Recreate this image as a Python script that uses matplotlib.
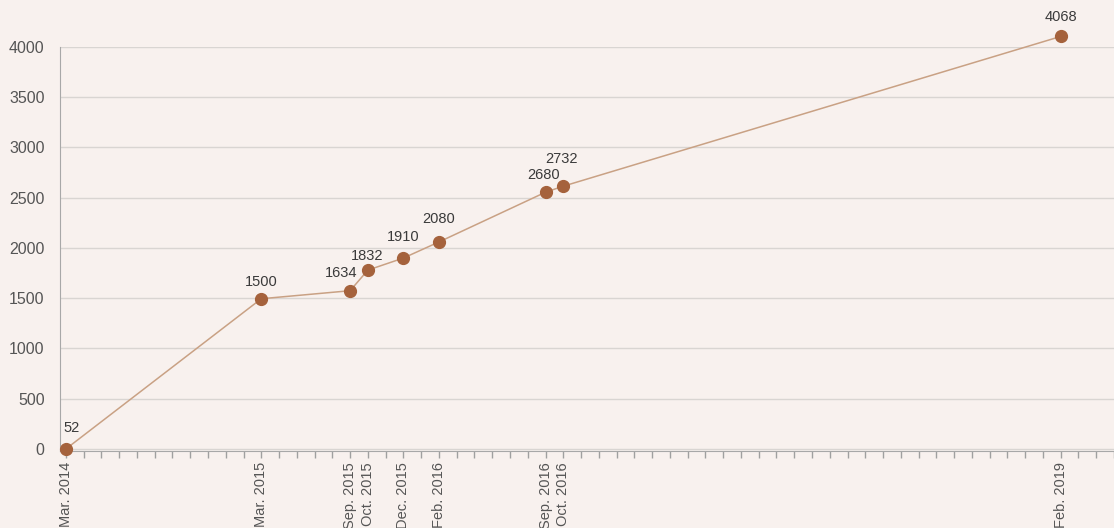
import matplotlib
matplotlib.use("Agg")
import matplotlib.pyplot as plt

# x positions are evenly spaced tick slots (one slot per minor tick)
slots = [0, 11, 16, 17, 19, 21, 27, 28, 56]
dates = ["Mar. 2014", "Mar. 2015", "Sep. 2015", "Oct. 2015", "Dec. 2015",
         "Feb. 2016", "Sep. 2016", "Oct. 2016", "Feb. 2019"]
values = [0, 1495, 1575, 1780, 1900, 2060, 2555, 2615, 4105]
value_labels = ["52", "1500", "1634", "1832", "1910", "2080", "2680", "2732", "4068"]

# label offsets in pixels (dx, dy)
offsets = [(6, 21), (0, 17), (-9, 18), (-1, 14), (0, 21), (0, 23), (-2, 17), (-2, 27), (0, 19)]

plt.rcParams['font.family'] = ['Liberation Sans', 'DejaVu Sans']

bg = '#f8f1ee'
fig = plt.figure(figsize=(11.14, 5.28), dpi=100, facecolor=bg)
ax = fig.add_axes([60 / 1114, 1 - 451 / 528, 1 - 60 / 1114, (451 - 47) / 528])
ax.set_facecolor(bg)

ax.plot(slots, values, color='#c9a184', linewidth=1.1, zorder=2, clip_on=False)
ax.plot(slots, values, 'o', color='#a5623c', markersize=8.5, zorder=3, clip_on=False)

for x, y, lab, (dx, dy) in zip(slots, values, value_labels, offsets):
    ax.annotate(lab, (x, y), xytext=(dx * 0.72, dy * 0.72), textcoords='offset points',
                ha='center', va='center', fontsize=10.5, color='#3a3a3a',
                annotation_clip=False)

ax.set_xlim(-0.33, 59)
ax.set_ylim(-20, 4000)
ax.set_yticks(range(0, 4001, 500))
ax.yaxis.grid(True, color='#d9d5d2', linewidth=1)
ax.set_axisbelow(True)
ax.tick_params(axis='y', length=0, pad=11, labelsize=11.5, labelcolor='#555555')

ax.set_xticks(slots)
ax.set_xticklabels(dates, rotation=90, ha='center', va='top')
ax.set_xticks(range(0, 60), minor=True)
ax.tick_params(axis='x', which='both', length=5, color='#a0a0a0', width=1,
               labelsize=10.5, labelcolor='#555555', pad=3)

for s in ['top', 'right']:
    ax.spines[s].set_visible(False)
ax.spines['left'].set_color('#a8a8a8')
ax.spines['bottom'].set_color('#a8a8a8')

fig.savefig('out.png', dpi=100, facecolor=bg)
